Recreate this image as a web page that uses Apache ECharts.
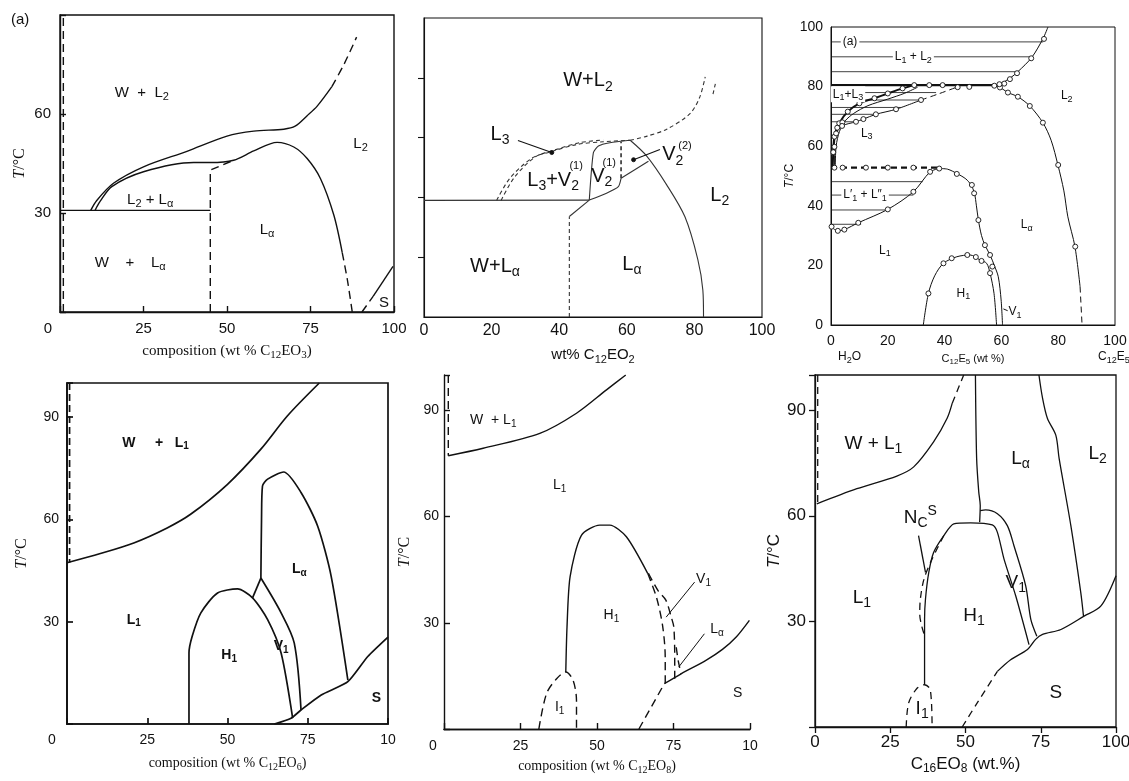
<!DOCTYPE html>
<html lang="en">
<head>
<meta charset="UTF-8">
<title>Phase diagrams</title>
<script src="https://cdn.jsdelivr.net/npm/echarts@6/dist/echarts.min.js"></script>
<style>html,body{margin:0;background:#fff}#main{width:1129px;height:781px}</style>
</head>
<body>
<div id="main"></div>
<script>
// ---------- panel 1 : C12EO3 ----------
var p1Water = [[1, 0], [1, 90]];
var p1Eutectic = [[0, 30.8], [45, 30.8]];
var p1LaDash = [[45, 0], [45, 43], [52, 46]];
var p1Inner = [[10.5, 30.8], [12, 33.5], [15.5, 38], [25, 42.5], [40, 45.3], [45, 45.3], [52, 46], [58, 48.8], [65, 51.4], [70, 50], [74, 46.5], [78, 40.4], [82, 29.3], [84.5, 18]];
var p1InnerDash = [[84.5, 18], [86, 10], [87.5, 0]];
var p1Outer = [[9.2, 30.8], [11, 33.8], [16, 39], [25, 44], [38, 48.7], [50, 53.3], [58, 54.8], [67, 55.4], [70.4, 56.3], [74, 59.5], [77, 62.4], [81.4, 68.3]];
var p1OuterDash = [[81.4, 68.3], [85, 75], [88.8, 83.3]];
var p1SDash = [[90.4, 0], [93.8, 4.8]];
var p1S = [[93.8, 4.8], [99.7, 13.8]];
var p1Labels = [['W  +  L{s|2}', 24.5, 66.5], ['L{s|2}', 90, 51], ['L{s|2} + L{s|α}', 27, 34], ['L{s|α}', 62, 25], ['W    +    L{s|α}', 21, 15], ['S', 97, 2.8]];

// ---------- panel 2 : C12EO2 ----------
var p2Eutectic = [[0, 39], [48.9, 39.1]];
var p2DashV = [[43, 0], [43, 33.6]];
var p2LaLeft = [[43, 33.6], [48.9, 39.1]];
var p2V2Left = [[48.9, 39.1], [50.1, 54.9], [51.6, 57.2], [55, 58.3], [61, 59.1]];
var p2V2Low = [[48.9, 39.1], [54, 41.4], [57.5, 43.6], [58.3, 46.4]];
var p2V2Mid = [[58.3, 46.4], [58.3, 58.5]];
var p2V22Low = [[58.3, 46.4], [66.4, 52.1]];
var p2LaRight = [[61, 59.1], [65.9, 53.8], [71.8, 44.2], [77.2, 33.5], [81, 19.3], [82.5, 9], [82.7, 0]];
var p2L3a = [[21.5, 39], [25.4, 46.4], [32, 53.2], [37.3, 55.2], [45.2, 57.7], [53, 58.6], [61, 59.1]];
var p2L3b = [[22.8, 39], [26.8, 46.8], [33, 53.6], [38.5, 55.8], [46, 58.3], [53, 59.2]];
var p2Upper = [[61, 59.1], [66, 60.5], [71.8, 62.8], [78.7, 68], [81.6, 73.6], [83.2, 80.3]];
var p2Faint = [[85.5, 74.5], [86.2, 78]];
var p2L3Lead = [[27.8, 59], [37.8, 55]];
var p2V22Lead = [[69.8, 56], [62, 52.6]];
var p2Labels = [['W+L{s|2}', 48.5, 79], ['L{s|3}', 22.5, 61], ['L{s|3}+V{s|2}', 38.2, 45.8], ['V{s|2}', 52.6, 47], ['V{s|2}', 73.6, 54.3], ['L{s|2}', 87.5, 40.7], ['W+L{s|α}', 21, 17], ['L{s|α}', 61.5, 17.6]];
var p2Sups = [['(1)', 45, 50.5], ['(1)', 54.8, 51.5], ['(2)', 77.2, 57.2]];
var p2Ticks = [20, 40, 60, 80];

// ---------- panel 3 : C12E5 ----------
var p3Ties = [[95, 74.7], [90, 70.5], [85, 66], [78, 37], [75.5, 31.7], [73, 24.5], [70.7, 15.8], [68.2, 8.8], [48.1, 32.3], [43.6, 29], [38.6, 20.5], [33.8, 10.6]];
var p3Top = [[0, 80.5], [58.5, 80.5]];
var p3L2Up = [[57, 80.3], [60, 81.2], [63, 82.8], [65.8, 85], [70.7, 89.8], [74.7, 96.2], [76.4, 100]];
var p3L2Low = [[57, 80.3], [59.5, 79.7], [62.3, 78], [65.8, 76.6], [70, 73.5], [74.6, 67.9], [77.5, 62], [79.9, 53.7], [82, 45], [83.4, 36.3], [85.9, 26.3], [87.7, 12.9]];
var p3L2Dash = [[87.7, 12.9], [88.4, 0]];
var p3L13 = [[0.6, 53], [0.8, 58], [1.2, 63.2], [2.9, 67.7], [5.9, 71.6], [10, 74.4], [15.3, 76.1], [20, 77.7], [25.2, 79.4], [29.3, 80.5]];
var p3L13b = [[1.5, 53], [1.8, 60], [3, 65], [5, 68.5], [8, 71], [13, 73.6], [20, 75.8], [26, 77.8], [30.5, 79.8]];
var p3L3Low = [[1.2, 53.1], [1.2, 59.8], [1.8, 64.3], [3.9, 66.8], [8.8, 68.2], [11.4, 69.1], [15.8, 70.7], [22.9, 72.4], [31.7, 75.5]];
var p3L3Dash = [[31.7, 75.5], [38, 77.6], [45.4, 80.2]];
var p3Line53 = [[0, 52.8], [38.5, 52.8]];
var p3L1pp = [[0, 33], [2.4, 31.6], [4.7, 32], [9.6, 34.3], [20, 38.8], [29, 44.7], [34.9, 51.4], [38.1, 52.5]];
var p3LaLeft = [[38.1, 52.5], [41, 52.3], [44.6, 50.7], [47.5, 49], [49.3, 47], [50.5, 44.3], [51.2, 40], [51.9, 35.2], [53, 30], [54.2, 26.8], [56, 23.5], [57.5, 20], [58.9, 16.2], [59.9, 8.4], [60.4, 0]];
var p3H1 = [[32.5, 0], [34.3, 10.6], [36.5, 16.5], [39.6, 20.7], [44.3, 22.9], [49, 23.5], [52.5, 21.8], [54.8, 20.7], [56, 17.4], [57.4, 10.6], [58.3, 0]];
var p3V1Lead = [[60.7, 5.4], [62.2, 4.8]];
var p3Marks = [[61, 81], [63, 82.5], [65.5, 84.5], [70.5, 89.5], [75, 96],
  [59.5, 79.7], [62.3, 78], [65.8, 76.6], [70, 73.5], [74.6, 67.9], [80, 53.7], [86, 26.3],
  [34.6, 80.5], [39.3, 80.5], [44.6, 79.8], [48.7, 79.9], [57.5, 80.3], [59.3, 80.8],
  [29.3, 80.5], [25.2, 79.4], [20, 77.7], [15.3, 76.1], [10, 74.4], [5.9, 71.6], [2.9, 67.7], [1.2, 63.2], [0.8, 58], [2.2, 66.2], [4, 68],
  [31.7, 75.5], [22.9, 72.4], [15.8, 70.7], [11.4, 69.1], [8.8, 68.2], [3.9, 66.8], [1.8, 64.3], [1.2, 59.8],
  [1.2, 52.8], [4.1, 52.8], [12.3, 52.8], [20, 52.8], [29, 52.8], [38.1, 52.5],
  [0.2, 33], [2.4, 31.6], [4.7, 32], [9.6, 34.3], [20, 38.8], [29, 44.7], [34.9, 51.4],
  [44.3, 50.7], [49.6, 47], [50.4, 44.2], [51.9, 35.2], [54.2, 26.8], [56, 23.5], [56.8, 19.6],
  [34.3, 10.6], [39.6, 20.7], [42.5, 22.4], [48, 23.5], [51, 22.8], [53, 21.5], [56, 17.4]];
var p3Labels = [['(a)', 6.7, 95, 1], ['L{s|1} + L{s|2}', 29, 90, 1], ['L{s|1}+L{s|3}', 6, 77.4, 1], ['L{s|3}', 12.6, 64.3], ['L{s|2}', 83, 77], ['L′{s|1} + L″{s|1}', 12, 43.6, 1], ['L{s|α}', 68.9, 33.6], ['L{s|1}', 19, 25], ['H{s|1}', 46.6, 10.6], ['V{s|1}', 64.8, 4.5]];

// ---------- panel 4 : C12EO6 ----------
var p4Water = [[0.8, 100], [0.8, 47.3]];
var p4Cloud = [[0, 47.3], [10.4, 50], [20.8, 53.1], [31.2, 57.5], [38.5, 61.5], [50, 70.3], [60.4, 80.6], [68.7, 90.4], [78.6, 100]];
var p4H1 = [[38, 0], [38, 20.8], [39, 25.7], [41.7, 32.6], [46.9, 38.4], [53.1, 39.6], [57.8, 37], [62.5, 30.6], [66.7, 20.8], [70.3, 1.7]];
var p4V1Left = [[57.8, 37], [60.4, 42.8]];
var p4V1Right = [[60.4, 42.8], [66.7, 32.6], [70.8, 23.7], [72.9, 4.1]];
var p4La = [[60.4, 42.8], [60.6, 60], [60.9, 69.8], [62.5, 71.8], [67.5, 73.9], [72.9, 67.9], [78.1, 58], [82.3, 43.3], [87.5, 12.9]];
var p4S = [[64.6, 0], [69.8, 1.7], [72.9, 4.1], [79.2, 8.5], [87.5, 12.4], [93.7, 19.8], [100, 25.5]];
var p4Labels = [['W     +   L{s|1}', 27.6, 82.5], ['L{s|1}', 20.8, 30.6], ['H{s|1}', 50.5, 20.3], ['V{s|1}', 66.7, 22.7], ['L{s|α}', 72.4, 45.3], ['S', 96.4, 7.6]];

// ---------- panel 5 : C12EO8 ----------
var p5Water = [[1.4, 100], [1.4, 77.2]];
var p5Cloud = [[1.4, 77.2], [12.8, 79.3], [31.3, 83.5], [43.3, 89.2], [53.1, 95.8], [59.4, 100]];
var p5H1 = [[39.8, 16.1], [40.2, 28.8], [41.2, 43], [44.9, 54.7], [50.9, 57.6], [54.2, 57.6], [59.6, 54.3], [66.6, 43.9]];
var p5H1Dash = [[66.6, 43.9], [69.5, 37], [71.5, 28.8], [72.3, 20], [72.3, 12.8]];
var p5V1Dash = [[66.8, 44], [70, 39], [72.5, 36.4], [74.3, 31.5], [75.1, 28.8], [75.4, 20], [75.4, 14.2]];
var p5LaDash = [[75.9, 23.1], [76.6, 19], [77.5, 15.6]];
var p5I1 = [[31, 0], [33.5, 10], [36.8, 14.2], [39.8, 16.1], [42.2, 13.7], [43.3, 8], [43.3, 0]];
var p5SDash = [[63.7, 0], [72, 12.8]];
var p5S = [[72, 12.8], [77.5, 15.6], [85.6, 19.4], [91, 22.5], [95.5, 26], [99.8, 30.7]];
var p5V1Lead = [[81.9, 41.5], [72.6, 31.6]];
var p5LaLead = [[85.1, 26.9], [76.7, 17.5]];
var p5Labels = [['W  + L{s|1}', 16.1, 87.3], ['L{s|1}', 37.8, 68.9], ['H{s|1}', 54.7, 32.1], ['I{s|1}', 37.8, 6.2], ['V{s|1}', 84.8, 42.3], ['L{s|α}', 89.2, 28.2], ['S', 96, 10]];

// ---------- panel 6 : C16EO8 ----------
var p6Water = [[0.9, 100], [0.9, 63.9]];
var p6Cloud = [[0.6, 63.4], [13.9, 67.7], [27.2, 71.3], [32.8, 73.9], [39.4, 81], [43.9, 87.7], [45.6, 92]];
var p6CloudDash = [[45.6, 92], [47.5, 96], [49.4, 100]];
var p6LaLeft = [[53.3, 100], [53.7, 76.3], [54.4, 66.8], [54.9, 62.9], [54.7, 58.2]];
var p6V1Out = [[54.9, 61.5], [56.7, 61.7], [60.6, 60.6], [63.9, 57.2], [66.1, 51.5], [70, 40.1], [71.7, 30.6], [73.7, 25.8]];
var p6H1 = [[36.4, 12], [36.4, 30.6], [36.7, 36.3], [37.8, 43.9], [39.4, 49.6], [42.8, 54.4], [46.1, 57.7], [51.7, 58], [58.9, 57.4], [60.6, 55.3], [62.8, 47.7], [66.7, 37.2], [71.1, 23.4]];
var p6NcS = [[42.8, 54.4], [38.9, 47.7], [36.2, 42], [35, 36.3], [34.8, 32], [35.5, 28.5], [36.4, 26]];
var p6NcLead = [[34.4, 54.4], [36.7, 43.9]];
var p6I1 = [[30.3, 0], [31.1, 6.8], [33.9, 11], [36.4, 12], [38.3, 10.6], [38.9, 0]];
var p6SDash = [[48.9, 0], [54, 7], [60.6, 15.8]];
var p6S = [[60.6, 15.8], [65, 19.1], [70.6, 22], [73.3, 24.9], [75.6, 26.3], [81.7, 27.7], [89.4, 31.5], [95, 34.4], [100, 43]];
var p6L2 = [[74.4, 100], [75.6, 93.4], [77.2, 87.7], [80, 82.9], [81.1, 76.3], [85, 57.2], [88.3, 38.2], [89.2, 31.5]];
var p6Labels = [['W + L{s|1}', 19.4, 80.6], ['L{s|α}', 68.3, 76.3], ['L{s|2}', 93.9, 77.7], ['N{s|C}{p|S}', 35, 59.5], ['L{s|1}', 15.6, 36.8], ['H{s|1}', 52.8, 31.5], ['V{s|1}', 66.7, 41], ['S', 80, 9.6], ['I{s|1}', 35.6, 5.3]];

var INK = '#111';
var SANS = '"Liberation Sans", Arial, sans-serif';
var SERIF = '"Liberation Serif", "Times New Roman", serif';

var grids = [], xAxes = [], yAxes = [], series = [], extraX = [];
var LW = [], DASH = [], COL = [];

function rich(font, size, weight, zero) {
  var small = Math.round(size * 0.72);
  return {
    s: {fontFamily: font, fontSize: small, fontWeight: weight || 'normal', color: INK, padding: [Math.round(size * 0.6), 0, 0, 0]},
    p: {fontFamily: font, fontSize: small, fontWeight: weight || 'normal', color: INK, padding: [0, 0, Math.round(size * 0.7), 0]},
    i: {fontFamily: font, fontSize: size, fontStyle: 'italic', color: INK},
    z: {fontFamily: font, fontSize: size, color: INK, padding: [0, zero || 0, 0, 0]}
  };
}

function addPanel(o) {
  var i = grids.length;
  LW.push(o.lw); DASH.push(o.dash); COL.push(o.color || INK);
  grids.push({left: o.left, top: o.top, width: o.width, height: o.height, containLabel: false, outerBoundsMode: 'none',
    show: o.box, borderColor: INK, borderWidth: o.lw, backgroundColor: 'transparent'});
  xAxes.push({
    gridIndex: i, type: 'value', min: 0, max: 100, interval: o.xInt, position: 'bottom',
    axisLine: {show: true, onZero: false, lineStyle: {color: INK, width: o.lw}},
    axisTick: {show: !!o.xTick, inside: o.xTick === 'in', length: 6, lineStyle: {color: INK, width: o.lw}},
    splitLine: {show: false},
    axisLabel: {show: true, margin: o.xMargin, color: INK, fontFamily: o.tickFont, fontSize: o.tickSize,
      showMinLabel: true, showMaxLabel: true, hideOverlap: false, rich: rich(o.tickFont, o.tickSize, 'normal', o.zero),
      formatter: function (v) {
        if (v === 0 && o.zero) return '{z|0}';
        if (v === 100 && o.cut100) return '10';
        return String(v);
      }},
    name: o.xName, nameLocation: 'middle', nameGap: o.xGap,
    nameTextStyle: {color: INK, fontFamily: o.xNameFont, fontSize: o.xNameSize, rich: rich(o.xNameFont, o.xNameSize)}
  });
  var yTick = {show: !!o.yTick, inside: o.yTick === 'in', length: 6, lineStyle: {color: INK, width: o.lw}};
  if (o.yTickValues) yTick.customValues = o.yTickValues;
  yAxes.push({
    gridIndex: i, type: 'value', min: 0, max: o.yMax, interval: o.yInt, position: 'left',
    axisLine: {show: true, onZero: false, lineStyle: {color: INK, width: o.lw}},
    axisTick: yTick,
    splitLine: {show: false},
    axisLabel: {show: o.yLabels !== false, margin: o.yMargin, color: INK, fontFamily: o.tickFont, fontSize: o.tickSize,
      showMinLabel: true, showMaxLabel: true, hideOverlap: false,
      formatter: function (v) { return o.yShow.indexOf(v) >= 0 ? String(v) : ''; }},
    name: o.yName || '', nameLocation: 'middle', nameGap: o.yGap || 30, nameRotate: 90,
    nameTextStyle: {color: INK, fontFamily: o.yNameFont || SANS, fontSize: o.yNameSize || 14, rich: rich(o.yNameFont || SANS, o.yNameSize || 14)}
  });
  return i;
}

function line(i, data, o) {
  o = o || {};
  series.push({
    type: 'line', xAxisIndex: i, yAxisIndex: i, data: data, symbol: 'none',
    smooth: o.smooth === undefined ? 0.3 : o.smooth,
    lineStyle: {color: o.color || COL[i], width: o.width || LW[i], type: o.dash ? DASH[i] : 'solid', opacity: 1},
    silent: true, z: 2, animation: false
  });
}

function dots(i, data, size, filled) {
  series.push({type: 'scatter', xAxisIndex: i, yAxisIndex: i, data: data, symbol: 'circle', symbolSize: size || 5,
    itemStyle: {color: filled ? INK : '#fff', borderColor: INK, borderWidth: 0.9, opacity: 1}, silent: true, z: 4, animation: false});
}

// region names, drawn as labels of invisible points
function labels(i, list, font, size, weight) {
  series.push({
    type: 'scatter', xAxisIndex: i, yAxisIndex: i, symbol: 'circle', symbolSize: 0, silent: true, z: 5, animation: false,
    itemStyle: {color: INK, opacity: 1},
    data: list.map(function (t) {
      var d = {name: t[0], value: [t[1], t[2]]};
      if (t[3]) d.label = {backgroundColor: '#fff', padding: [0, 2]};
      return d;
    }),
    label: {show: true, position: [0, 0], align: 'center', verticalAlign: 'middle',
      color: INK, opacity: 1, textBorderWidth: 0, fontFamily: font, fontSize: size, fontWeight: weight || 'normal',
      rich: rich(font, size, weight), formatter: function (p) { return p.name; }}
  });
}

var P1 = addPanel({left: 60, top: 15, width: 334, height: 297, yMax: 90, xInt: 25, yInt: 30, box: true, lw: 1.4, dash: [8, 5],
  tickFont: SANS, tickSize: 15, xTick: 'in', yTick: 'in', xMargin: 9, yMargin: 9, zero: 24, yShow: [30, 60],
  xName: 'composition (wt % C{s|12}EO{s|3})', xNameFont: SERIF, xNameSize: 15, xGap: 29,
  yName: '{i|T}/°C', yNameFont: SERIF, yNameSize: 16, yGap: 32});
var P2 = addPanel({left: 424, top: 18, width: 338, height: 299, yMax: 100, xInt: 20, yInt: 20, box: true, lw: 1.1, dash: [4, 3], color: '#333',
  tickFont: SANS, tickSize: 16, xTick: null, yTick: 'out', yTickValues: p2Ticks, xMargin: 6, yMargin: 8, yLabels: false, yShow: [],
  xName: 'wt% C{s|12}EO{s|2}', xNameFont: SANS, xNameSize: 15, xGap: 28});
var P3 = addPanel({left: 831, top: 27, width: 284, height: 298, yMax: 100, xInt: 20, yInt: 20, box: true, lw: 1, dash: [6, 4],
  tickFont: SANS, tickSize: 14, xTick: null, yTick: null, xMargin: 9, yMargin: 8, yShow: [0, 20, 40, 60, 80, 100],
  xName: 'C{s|12}E{s|5} (wt %)', xNameFont: SANS, xNameSize: 11, xGap: 26,
  yName: '{i|T}/°C', yNameFont: SANS, yNameSize: 12, yGap: 25});
var P4 = addPanel({left: 67, top: 383, width: 321, height: 341, yMax: 100, xInt: 25, yInt: 30, box: true, lw: 1.7, dash: [7, 4],
  tickFont: SANS, tickSize: 14, xTick: 'in', yTick: 'in', xMargin: 9, yMargin: 8, zero: 30, cut100: true, yShow: [30, 60, 90],
  xName: 'composition (wt % C{s|12}EO{s|6})', xNameFont: SERIF, xNameSize: 14, xGap: 30,
  yName: '{i|T}/°C', yNameFont: SERIF, yNameSize: 16, yGap: 37});
var P5 = addPanel({left: 444, top: 375, width: 306, height: 354, yMax: 100, xInt: 25, yInt: 30, box: false, lw: 1.4, dash: [8, 5],
  tickFont: SANS, tickSize: 14, xTick: 'in', yTick: 'in', xMargin: 10, yMargin: 5, zero: 22, cut100: true, yShow: [30, 60, 90],
  xName: 'composition (wt % C{s|12}EO{s|8})', xNameFont: SERIF, xNameSize: 14, xGap: 28,
  yName: '{i|T}/°C', yNameFont: SERIF, yNameSize: 16, yGap: 31});
var P6 = addPanel({left: 815, top: 375, width: 301, height: 352, yMax: 100, xInt: 25, yInt: 30, box: true, lw: 1.3, dash: [7, 5],
  tickFont: SANS, tickSize: 17, xTick: 'out', yTick: 'out', xMargin: 7, yMargin: 9, yShow: [30, 60, 90],
  xName: 'C{s|16}EO{s|8} (wt.%)', xNameFont: SANS, xNameSize: 17, xGap: 26,
  yName: '{i|T}/°C', yNameFont: SANS, yNameSize: 17, yGap: 31});

// top border line for panel 5 (no right frame in the figure)
extraX.push({gridIndex: P5, type: 'value', min: 0, max: 100, position: 'top',
  axisLine: {show: true, lineStyle: {color: INK, width: 1.4}}, axisTick: {show: false}, axisLabel: {show: false}, splitLine: {show: false}});

// panel 1
line(P1, p1Water, {dash: true, smooth: false});
line(P1, p1Eutectic, {smooth: false});
line(P1, p1LaDash, {dash: true, smooth: false});
line(P1, p1Inner); line(P1, p1InnerDash, {dash: true});
line(P1, p1Outer); line(P1, p1OuterDash, {dash: true});
line(P1, p1SDash, {dash: true, smooth: false}); line(P1, p1S, {smooth: false});
labels(P1, p1Labels, SANS, 15);

// panel 2
line(P2, p2Eutectic, {smooth: false});
line(P2, p2DashV, {dash: true, smooth: false});
line(P2, p2LaLeft, {smooth: false});
line(P2, p2V2Left, {smooth: 0.2});
line(P2, p2V2Low, {smooth: 0.2});
line(P2, p2V2Mid, {dash: true, smooth: false, color: INK, width: 1.4});
line(P2, p2V22Low, {smooth: false});
line(P2, p2LaRight);
line(P2, p2L3a, {dash: true}); line(P2, p2L3b, {dash: true});
line(P2, p2Upper, {dash: true}); line(P2, p2Faint, {dash: true, smooth: false});
line(P2, p2L3Lead, {smooth: false, color: INK});
line(P2, p2V22Lead, {smooth: false, color: INK});
dots(P2, [p2L3Lead[1], p2V22Lead[1]], 4, true);
labels(P2, p2Labels, SANS, 20);
labels(P2, p2Sups, SANS, 11);

// panel 3
p3Ties.forEach(function (t) { line(P3, [[0, t[0]], [t[1], t[0]]], {smooth: false, width: 0.8}); });
line(P3, p3Top, {smooth: false, width: 2.2});
line(P3, p3L2Up); line(P3, p3L2Low); line(P3, p3L2Dash, {dash: true, smooth: false});
line(P3, p3L13, {width: 2}); line(P3, p3L13b, {width: 1});
line(P3, p3L3Low); line(P3, p3L3Dash, {dash: true});
line(P3, p3Line53, {dash: true, smooth: false, width: 2.2});
line(P3, p3L1pp); line(P3, p3LaLeft); line(P3, p3H1);
line(P3, p3V1Lead, {smooth: false});
dots(P3, p3Marks);
labels(P3, p3Labels, SANS, 12);

// panel 4
line(P4, p4Water, {dash: true, smooth: false});
line(P4, p4Cloud); line(P4, p4H1, {smooth: 0.25});
line(P4, p4V1Left, {smooth: false}); line(P4, p4V1Right);
line(P4, p4La, {smooth: 0.25}); line(P4, p4S, {smooth: 0.2});
labels(P4, p4Labels, SANS, 14, 'bold');

// panel 5
line(P5, p5Water, {dash: true, smooth: false});
line(P5, p5Cloud); line(P5, p5H1, {smooth: 0.25});
line(P5, p5H1Dash, {dash: true}); line(P5, p5V1Dash, {dash: true}); line(P5, p5LaDash, {dash: true});
line(P5, p5I1, {dash: true});
line(P5, p5SDash, {dash: true, smooth: false}); line(P5, p5S);
line(P5, p5V1Lead, {smooth: false, width: 1}); line(P5, p5LaLead, {smooth: false, width: 1});
labels(P5, p5Labels, SANS, 14);

// panel 6
line(P6, p6Water, {dash: true, smooth: false});
line(P6, p6Cloud); line(P6, p6CloudDash, {dash: true});
line(P6, p6LaLeft); line(P6, p6V1Out); line(P6, p6H1, {smooth: 0.25});
line(P6, p6NcS, {dash: true});
line(P6, p6NcLead, {smooth: false});
line(P6, p6I1, {dash: true});
line(P6, p6SDash, {dash: true}); line(P6, p6S);
line(P6, p6L2);
labels(P6, p6Labels, SANS, 19);

var small = rich(SANS, 12);
var chart = echarts.init(document.getElementById('main'), null, {renderer: 'canvas'});
chart.setOption({
  animation: false,
  backgroundColor: '#fff',
  grid: grids,
  xAxis: xAxes.concat(extraX),
  yAxis: yAxes,
  series: series,
  graphic: [
    {type: 'text', left: 11, top: 12, style: {text: '(a)', fill: INK, font: '15px ' + SANS}},
    {type: 'text', left: 838, top: 351, style: {text: 'H{s|2}O', fill: INK, font: '12px ' + SANS, rich: small}},
    {type: 'text', left: 1098, top: 351, style: {text: 'C{s|12}E{s|5}', fill: INK, font: '12px ' + SANS, rich: small}}
  ]
});
</script>
</body>
</html>
